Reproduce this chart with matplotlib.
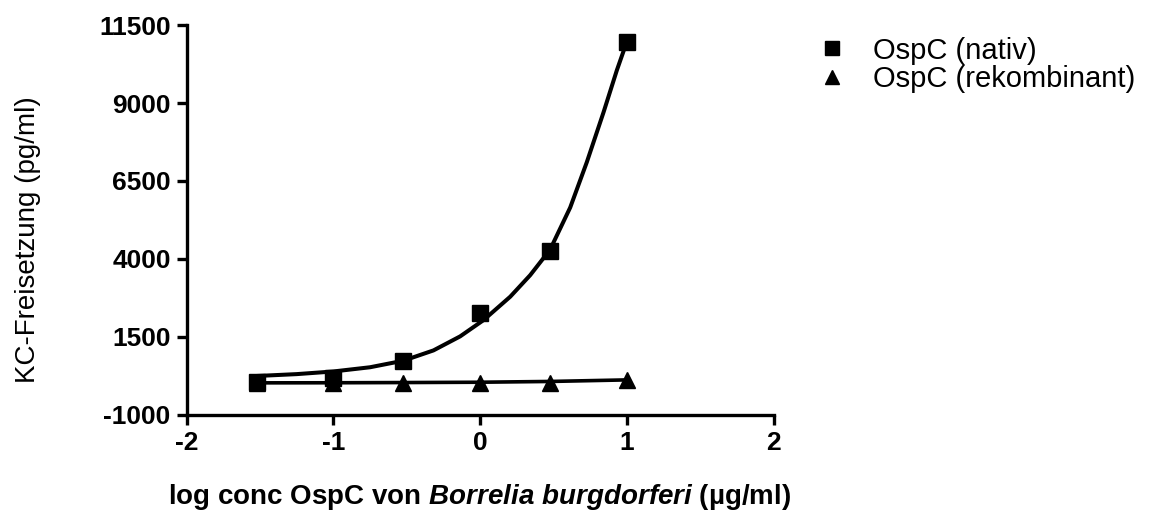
import matplotlib
matplotlib.use("Agg")
import matplotlib.pyplot as plt

plt.rcParams["font.family"] = ["Liberation Sans", "DejaVu Sans"]
plt.rcParams["mathtext.fontset"] = "custom"
plt.rcParams["mathtext.rm"] = "Liberation Sans:bold"
plt.rcParams["mathtext.it"] = "Liberation Sans:italic:bold"

# log10 concentration (µg/ml)
log_conc = [-1.523, -1.0, -0.523, 0.0, 0.477, 1.0]
nativ = [50, 190, 730, 2280, 4260, 10960]
rekombinant = [30, 20, 10, 15, 20, 120]

# fitted curves
fit_x = [-1.523, -1.25, -1.0, -0.75, -0.523, -0.318, -0.136, 0.023, 0.205,
         0.341, 0.477, 0.614, 0.727, 0.841, 0.932, 1.0]
fit_nativ = [250, 310, 395, 530, 740, 1070, 1520, 2040, 2790,
             3480, 4300, 5650, 7100, 8700, 10050, 10965]
fit_rek_x = [-1.523, -1.0, -0.5, 0.0, 0.477, 1.0]
fit_rek = [30, 33, 40, 50, 75, 125]

yticks = [-1000, 1500, 4000, 6500, 9000, 11500]
xticks = [-2, -1, 0, 1, 2]

fig = plt.figure(figsize=(11.71, 5.22), dpi=100)
ax = fig.add_axes([0.1594, 0.2050, 0.5012, 0.7471])

ax.plot(fit_x, fit_nativ, color="black", lw=2.9, zorder=2)
ax.plot(fit_rek_x, fit_rek, color="black", lw=2.6, zorder=2)
ax.plot(log_conc, nativ, "s", color="black", ms=11, zorder=3, label="OspC (nativ)")
ax.plot(log_conc, rekombinant, "^", color="black", ms=11, zorder=3, label="OspC (rekombinant)")

ax.set_xlim(-2, 2)
ax.set_ylim(-1000, 11500)
ax.set_xticks(xticks)
ax.set_yticks(yticks)
ax.set_xticklabels([str(t) for t in xticks], fontweight="bold", fontsize=19)
ax.set_yticklabels([str(t) for t in yticks], fontweight="bold", fontsize=19)

for side in ["top", "right"]:
    ax.spines[side].set_visible(False)
for side in ["left", "bottom"]:
    ax.spines[side].set_linewidth(2.4)
ax.tick_params(direction="out", length=7, width=2.4, pad=4.5)

fig.text(28 / 1171, 1 - 240 / 522, "KC-Freisetzung (pg/ml)", rotation=90,
         ha="center", va="center", fontsize=20)
fig.text(480 / 1171, 1 - 497 / 522,
         r"log conc OspC von $\mathit{Borrelia\ burgdorferi}$ (µg/ml)",
         ha="center", va="center", fontsize=20, fontweight="bold")

leg = ax.legend(loc="upper left", bbox_to_anchor=(806 / 1171, 1 - 25 / 522),
                bbox_transform=fig.transFigure, frameon=False, fontsize=21,
                handlelength=1.0, handletextpad=0.9, labelspacing=0.02,
                borderaxespad=0, markerscale=0.95)

fig.savefig("out.png", dpi=100)
